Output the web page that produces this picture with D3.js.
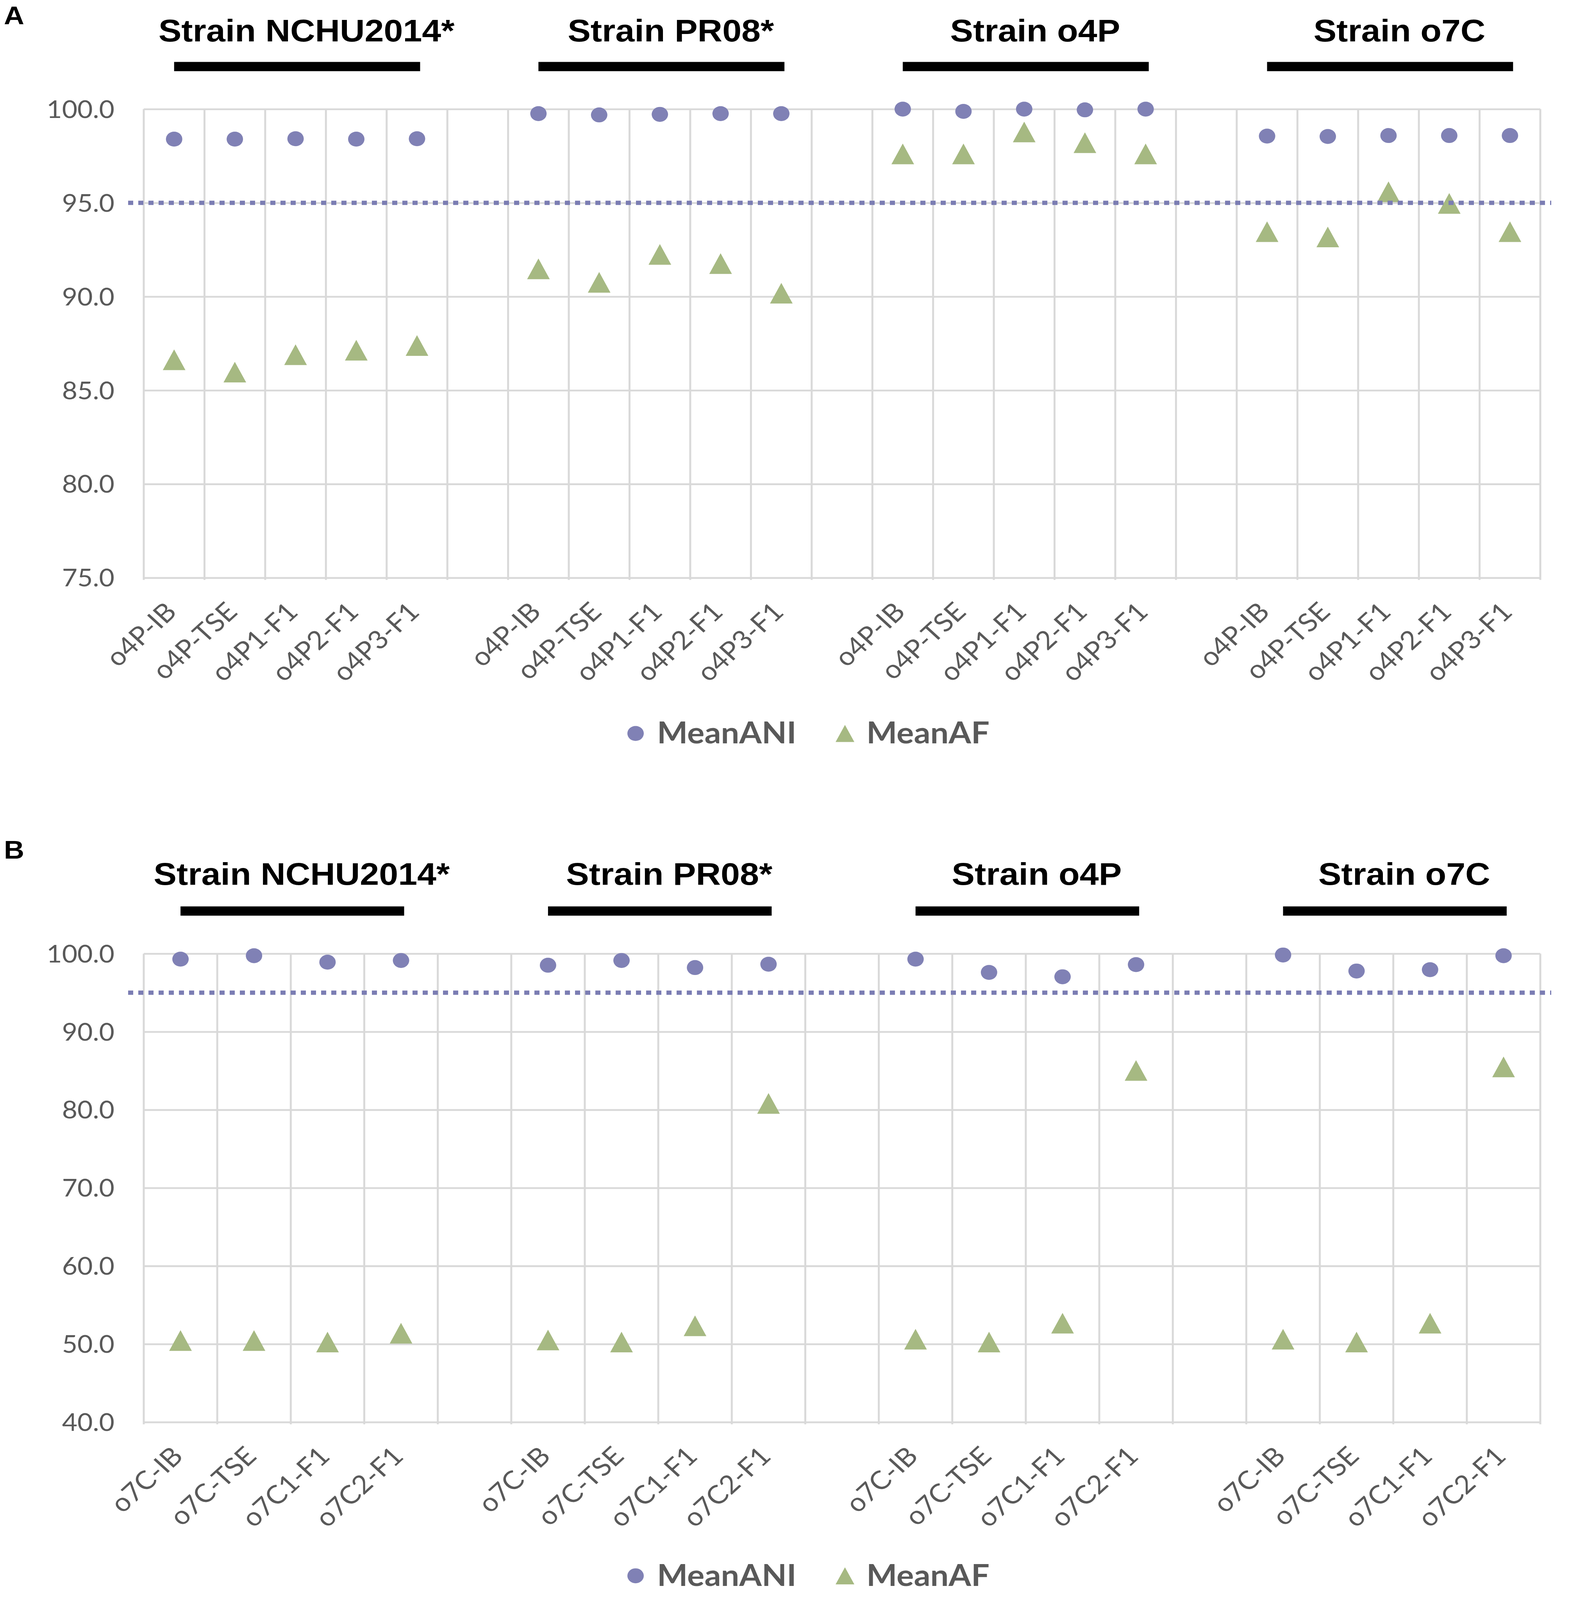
<!DOCTYPE html>
<html>
<head>
<meta charset="utf-8">
<script src="https://cdn.jsdelivr.net/npm/d3@7"></script>
<style>
    html, body { margin: 0; padding: 0; background: #fff; width: 100%; height: 100%; overflow: hidden; }
    #my_dataviz { width: 100%; height: 100%; }
    .tick-label { font-family: Lato, "Open Sans", sans-serif; fill: #595959; }
    .title { font-family: "Liberation Sans", Arial, sans-serif; font-weight: bold; fill: #000; }
</style>
</head>
<body>
<div id="my_dataviz"></div>
<script>
// strain groups (same for both panels)
const strains = ["Strain NCHU2014*", "Strain PR08*", "Strain o4P", "Strain o7C"];

// panel A: o4P samples
const samplesA = ["o4P-IB", "o4P-TSE", "o4P1-F1", "o4P2-F1", "o4P3-F1"];
const aniA = [
    [98.4, 98.4, 98.42, 98.4, 98.42],
    [99.76, 99.69, 99.72, 99.76, 99.76],
    [100.0, 99.88, 100.0, 99.96, 100.0],
    [98.56, 98.54, 98.59, 98.59, 98.59]
];
const afA = [
    [86.63, 85.97, 86.9, 87.14, 87.39],
    [91.48, 90.76, 92.25, 91.76, 90.18],
    [97.61, 97.61, 98.78, 98.21, 97.61],
    [93.46, 93.18, 95.59, 94.97, 93.46]
];
const ticksA = [75, 80, 85, 90, 95, 100];

// panel B: o7C samples
const samplesB = ["o7C-IB", "o7C-TSE", "o7C1-F1", "o7C2-F1"];
const aniB = [
    [99.3, 99.74, 98.91, 99.13],
    [98.52, 99.13, 98.22, 98.65],
    [99.3, 97.6, 97.04, 98.6],
    [99.83, 97.78, 97.95, 99.74]
];
const afB = [
    [50.45, 50.45, 50.26, 51.39],
    [50.52, 50.26, 52.34, 80.82],
    [50.62, 50.26, 52.67, 85.04],
    [50.62, 50.26, 52.67, 85.5]
];
const ticksB = [40, 50, 60, 70, 80, 90, 100];

const threshold = 95;
const seriesNames = ["MeanANI", "MeanAF"];

var width = 4019, height = 4496;
var plotLeft = 368, plotRight = 3943;

var colorANI = "#8081b5",
    colorAF = "#a6b982",
    gridColor = "#d9d9d9",
    dotColor = "#7b7db3";

var triPath = "M0,-29L29,29L-29,29Z";

// stretch the 4019x4496 drawing over whatever viewport we get
var svg = d3.select("#my_dataviz")
    .append("svg")
    .attr("viewBox", "0 0 " + width + " " + height)
    .attr("preserveAspectRatio", "none")
    .attr("width", "100%")
    .attr("height", "100%")
    .style("display", "block");

function drawPanel(opt) {
    var g = svg.append("g");

    // band domain: samples of each strain followed by an empty gap band
    var domain = [];
    strains.forEach(function (s, i) {
        opt.samples.forEach(function (c) { domain.push(i + "|" + c); });
        if (i < strains.length - 1) domain.push("gap" + i);
    });

    var x = d3.scaleBand().domain(domain).range([plotLeft, plotRight]);
    var y = d3.scaleLinear()
        .domain([opt.ticks[0], opt.ticks[opt.ticks.length - 1]])
        .range([opt.bottom, opt.top]);

    // horizontal gridlines
    g.append("g")
        .attr("transform", "translate(" + plotLeft + ",0)")
        .call(d3.axisLeft(y).tickValues(opt.ticks)
            .tickSize(-(plotRight - plotLeft))
            .tickFormat(""))
        .call(a => a.select(".domain").remove())
        .call(a => a.selectAll("line").attr("stroke", gridColor).attr("stroke-width", 5));

    // vertical gridlines at band edges
    var edges = domain.map(d => x(d)).concat([plotRight]);
    g.append("g").selectAll("line")
        .data(edges)
        .enter().append("line")
        .attr("x1", d => d).attr("x2", d => d)
        .attr("y1", y.range()[1]).attr("y2", y.range()[0] + 6)
        .attr("stroke", gridColor)
        .attr("stroke-width", 5);

    // y tick labels
    g.selectAll(".ylab")
        .data(opt.ticks)
        .enter().append("text")
        .attr("class", "tick-label")
        .attr("x", 293)
        .attr("y", d => y(d))
        .attr("dy", "0.36em")
        .attr("text-anchor", "end")
        .style("font-size", "68px")
        .text(d => d3.format(".1f")(d));

    // category labels, rotated
    var cats = domain.filter(d => d.indexOf("gap") !== 0);
    g.selectAll(".xlab")
        .data(cats)
        .enter().append("text")
        .attr("class", "tick-label")
        .attr("text-anchor", "end")
        .attr("transform", d => "translate(" + (x(d) + x.bandwidth() / 2 + 10) + "," + (opt.bottom + 100) + ") rotate(-45)")
        .style("font-size", "72px")
        .text(d => d.split("|")[1]);

    // strain titles and black bars
    strains.forEach(function (s, i) {
        var first = x(i + "|" + opt.samples[0]) + x.bandwidth() / 2;
        var last = x(i + "|" + opt.samples[opt.samples.length - 1]) + x.bandwidth() / 2;
        g.append("rect")
            .attr("x", first)
            .attr("y", opt.barY)
            .attr("width", last - first + 8)
            .attr("height", 26)
            .attr("fill", "#000");
        g.append("text")
            .attr("class", "title")
            .attr("x", (first + last) / 2 + 28)
            .attr("y", opt.titleY)
            .attr("text-anchor", "middle")
            .style("font-size", "88px")
            .text(s);
    });

    // flatten series
    var pts = [];
    strains.forEach(function (s, i) {
        opt.samples.forEach(function (c, j) {
            pts.push({ key: i + "|" + c, ani: opt.ani[i][j], af: opt.af[i][j] });
        });
    });

    g.selectAll(".ani")
        .data(pts)
        .enter().append("circle")
        .attr("cx", d => x(d.key) + x.bandwidth() / 2)
        .attr("cy", d => y(d.ani))
        .attr("r", 21)
        .attr("fill", colorANI);

    g.selectAll(".af")
        .data(pts)
        .enter().append("path")
        .attr("d", triPath)
        .attr("transform", d => "translate(" + (x(d.key) + x.bandwidth() / 2) + "," + y(d.af) + ")")
        .attr("fill", colorAF);

    // 95% threshold dotted line (drawn over the markers)
    g.append("line")
        .attr("x1", plotLeft - 40)
        .attr("x2", plotRight + 28)
        .attr("y1", y(threshold))
        .attr("y2", y(threshold))
        .attr("stroke", dotColor)
        .attr("stroke-width", 12)
        .attr("stroke-dasharray", "13,13");

    // legend
    var legend = g.append("g")
        .attr("transform", "translate(0," + opt.legendY + ")");
    legend.append("circle")
        .attr("cx", 1627).attr("cy", 0).attr("r", 21)
        .attr("fill", colorANI);
    legend.append("path")
        .attr("d", "M0,-24L24,24L-24,24Z")
        .attr("transform", "translate(2163,0)")
        .attr("fill", colorAF);
    legend.selectAll(".legtext")
        .data(seriesNames)
        .enter().append("text")
        .attr("class", "tick-label")
        .attr("x", (d, i) => i === 0 ? 1682 : 2218)
        .attr("y", 28)
        .style("font-size", "83px")
        .style("font-weight", "bold")
        .text(d => d);

    // panel letter
    g.append("text")
        .attr("class", "title")
        .attr("x", 10)
        .attr("y", opt.letterY)
        .style("font-size", "72px")
        .text(opt.letter);
}

drawPanel({
    letter: "A", letterY: 68,
    samples: samplesA, ani: aniA, af: afA, ticks: ticksA,
    top: 306.6, bottom: 1623.6,
    titleY: 116, barY: 174, legendY: 2061
});

drawPanel({
    letter: "B", letterY: 2413,
    samples: samplesB, ani: aniB, af: afB, ticks: ticksB,
    top: 2679.8, bottom: 3996.2,
    titleY: 2486, barY: 2547, legendY: 4428
});
</script>
</body>
</html>
